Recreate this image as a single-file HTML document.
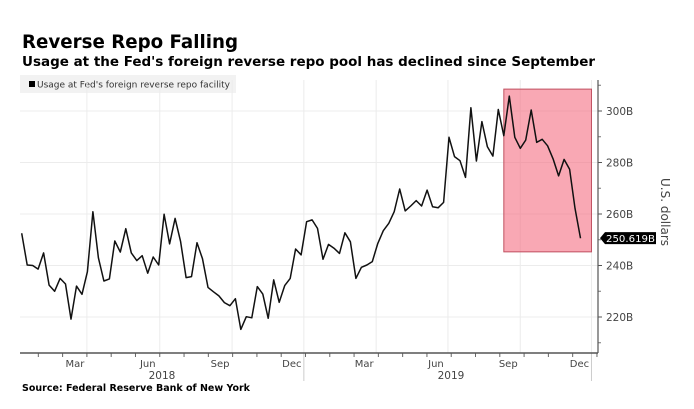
<!DOCTYPE html>
<html><head><meta charset="utf-8"><style>
html,body{margin:0;padding:0;background:#fff;}
svg{display:block;font-family:"DejaVu Sans","Liberation Sans",sans-serif;}
</style></head><body>
<svg id="chart" width="694" height="409" viewBox="0 0 694 409">
<text x="22" y="48" font-size="19" font-weight="bold" textLength="216" lengthAdjust="spacingAndGlyphs">Reverse Repo Falling</text>
<text x="22" y="66" font-size="13" font-weight="bold" textLength="573" lengthAdjust="spacingAndGlyphs">Usage at the Fed's foreign reverse repo pool has declined since September</text>
<rect x="20" y="75" width="216" height="18" fill="#f2f2f2"/>
<rect x="29" y="81" width="6" height="6" fill="#000"/>
<text x="37" y="87.5" font-size="8.5" fill="#333" textLength="193" lengthAdjust="spacingAndGlyphs">Usage at Fed's foreign reverse repo facility</text>
<g id="grid"></g>
<g id="hl"></g>
<g id="series"></g>
<g id="axes"></g>
<text transform="translate(661,212) rotate(90)" font-size="12" fill="#444" text-anchor="middle">U.S. dollars</text>
<text x="22" y="391" font-size="10" font-weight="bold" textLength="228" lengthAdjust="spacingAndGlyphs">Source: Federal Reserve Bank of New York</text>
</svg>
<script>
const values = [252.5,240.2,240,238.6,244.9,232.4,230,235,232.8,219.2,232,228.8,237.6,260.9,243,234,234.8,249.5,245.2,254.3,244.9,241.9,243.8,237,243.3,240.2,259.9,248.4,258.3,249.3,235.3,235.7,248.8,242.6,231.5,229.8,228.2,225.6,224.4,227.1,215.2,220.1,219.7,231.8,228.9,219.5,234.4,225.7,232.2,235,246.4,244.1,257,257.7,254.4,242.4,248.2,246.7,244.7,252.7,249.2,235,239.3,240.2,241.5,248.6,253.5,256.4,260.9,269.7,261.2,263.1,265.2,263.1,269.3,262.8,262.4,264.5,289.8,282.3,280.7,274.2,301.3,280.6,295.9,286.1,282.5,300.6,290.4,305.8,289.8,285.5,288.7,300.4,287.8,289,286.5,281.4,274.8,281.2,277.4,262.2,250.619];
const yTicks = [220,240,260,280,300];
const monthLabels = ["Mar","Jun","Sep","Dec","Mar","Jun","Sep","Dec"];
const monthIdx = [11.9,25.2,38.4,51.5,64.7,77.8,91,104];
const yearLabels = ["2018","2019"];
const highlightRange = [88, 104, 245.3, 308.5];
const lastLabel = "250.619B";

const NS="http://www.w3.org/2000/svg";
const X0=21.7, DX=(586-21.7)/103;
const xs=i=>X0+i*DX;
const ys=v=>111+(300-v)*2.575;
const plotTop=80, plotBottom=353, axisX=598;
function mk(tag,attrs,parent){const e=document.createElementNS(NS,tag);for(const k in attrs)e.setAttribute(k,attrs[k]);parent.appendChild(e);return e;}
const grid=document.getElementById('grid'), axes=document.getElementById('axes');
yTicks.forEach(t=>{
  const l=mk('line',{x1:20,x2:axisX,y1:ys(t),y2:ys(t),stroke:'#ececec','stroke-width':1},grid);
  
  
  const tk=mk('line',{x1:axisX,x2:axisX+4,y1:ys(t),y2:ys(t),stroke:'#555'},axes);
  
  
  const tx=mk('text',{x:axisX+8,y:ys(t)+4,'font-size':10.5,fill:'#444'},axes);
  tx.textContent=t+'B';
  
  
});
[210,230,250,270,290,310].forEach(t=>{
  const tk=mk('line',{x1:axisX,x2:axisX+3,y1:ys(t),y2:ys(t),stroke:'#777'},axes);
  
  
});
monthIdx.forEach((m,k)=>{
  const x=xs(m);
  const g=mk('line',{x1:x,x2:x,y1:plotTop,y2:plotBottom,stroke:'#ececec'},grid);
  
  
  const t=mk('text',{x:x-12,y:367,'font-size':10,fill:'#444','text-anchor':'middle'},axes);
  t.textContent=monthLabels[k];
  
  
});
for(let m=0;m<24;m++){
  const x=xs(monthIdx[0]+(m-2)*(monthIdx[1]-monthIdx[0])/3);
  if(x<20||x>axisX)continue;
  const tk=mk('line',{x1:x,x2:x,y1:plotBottom,y2:plotBottom+4,stroke:'#666'},axes);
  
  
}
[xs(monthIdx[3]),xs(monthIdx[7])].forEach(x=>{
  const l=mk('line',{x1:x,x2:x,y1:plotBottom,y2:plotBottom+28,stroke:'#ccc'},axes);
  
  
});
[[yearLabels[0],162],[yearLabels[1],451]].forEach(([s,x])=>{
  const t=mk('text',{x:x,y:379,'font-size':10.5,fill:'#444','text-anchor':'middle'},axes);
  t.textContent=s;
  
  
});
const xa=mk('line',{x1:20,x2:axisX,y1:plotBottom,y2:plotBottom,stroke:'#555','stroke-width':1.5},axes);


const ya=mk('line',{x1:axisX,x2:axisX,y1:plotTop,y2:plotBottom,stroke:'#555','stroke-width':1.2},axes);


const hl=mk('rect',{x:xs(highlightRange[0]),y:ys(highlightRange[3]),width:xs(highlightRange[1])-xs(highlightRange[0]),height:ys(highlightRange[2])-ys(highlightRange[3]),fill:'rgba(245,110,130,0.6)',stroke:'#c05060','stroke-width':1},document.getElementById('hl'));


const pts=values.map((v,i)=>xs(i).toFixed(1)+','+ys(v).toFixed(1)).join(' ');
const pl=mk('polyline',{points:pts,fill:'none',stroke:'#111','stroke-width':1.5,'stroke-linejoin':'round'},document.getElementById('series'));


const ly=ys(values[values.length-1]);
const tag=mk('path',{d:`M${axisX+2},${ly} L${axisX+7},${ly-6} L${axisX+58},${ly-6} L${axisX+58},${ly+6} L${axisX+7},${ly+6} Z`,fill:'#000'},axes);


const tt=mk('text',{x:axisX+8,y:ly+4,'font-size':10,fill:'#fff',textLength:49,lengthAdjust:'spacingAndGlyphs'},axes);
tt.textContent=lastLabel;


</script>
</body></html>
